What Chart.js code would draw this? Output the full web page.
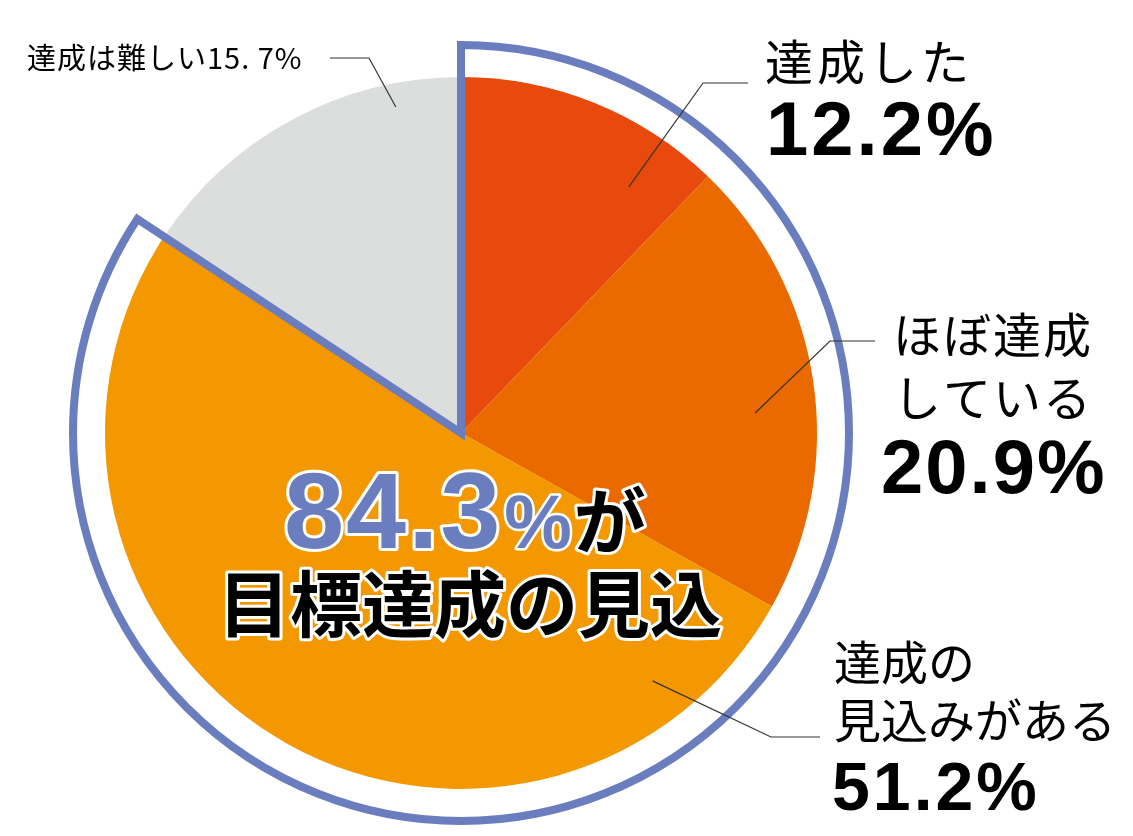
<!DOCTYPE html>
<html lang="ja">
<head>
<meta charset="utf-8">
<script src="https://cdn.jsdelivr.net/npm/chart.js@4.4.1/dist/chart.umd.min.js"></script>
<style>
  html, body { margin: 0; padding: 0; background: #fff; }
  #wrap { width: 1133px; height: 836px; position: relative; }
</style>
</head>
<body>
<div id="wrap"><canvas id="pieChart"></canvas></div>
<script>
const categories = ["達成した", "ほぼ達成している", "達成の見込みがある", "達成は難しい"];
const values = [12.2, 20.9, 51.2, 15.7];
const valueLabels = ["12.2%", "20.9%", "51.2%", "15. 7%"];
const colors = ["#e8490c", "#eb6a00", "#f39800", "#dcdddd"];

const blue = "#6a7dbe";
const jp = '"Noto Sans CJK JP", "Noto Sans", sans-serif';
const num = '"Liberation Sans", Arial, sans-serif';

// leader lines: anchor inside the slice (angle from top in deg, fraction of radius), then elbow and end
const leaders = [
  { ang: 34.3, rf: 0.837, elbow: [703, 83], end: [748, 83] },
  { ang: 86.1, rf: 0.828, elbow: [830, 341], end: [875, 341] },
  { ang: 142.3, rf: 0.88, elbow: [771, 737], end: [820, 737] },
  { ang: 348.7, rf: 0.934, elbow: [369, 58], end: [330, 58] }
];

function drawOutlined(c, txt, x, y, fill, stroke, sw) {
  c.lineJoin = 'round';
  c.strokeStyle = stroke;
  c.lineWidth = sw;
  c.strokeText(txt, x, y);
  c.fillStyle = fill;
  c.fillText(txt, x, y);
}

const overlay = {
  id: 'overlay',
  afterDraw(chart) {
    const c = chart.ctx;
    const arcs = chart.getDatasetMeta(0).data;
    const cx = arcs[0].x, cy = arcs[0].y, r = arcs[0].outerRadius;

    // outline round the first three slices
    const a0 = arcs[0].startAngle, a1 = arcs[2].endAngle;
    const R = r + 32;
    c.save();
    c.strokeStyle = blue;
    c.lineWidth = 8;
    c.lineJoin = 'miter';
    c.beginPath();
    c.moveTo(cx, cy);
    c.lineTo(cx + R * Math.cos(a0), cy + R * Math.sin(a0));
    c.arc(cx, cy, R, a0, a1);
    c.closePath();
    c.stroke();

    // leader lines
    c.strokeStyle = '#333';
    c.lineWidth = 1.2;
    leaders.forEach(l => {
      const a = (l.ang - 90) * Math.PI / 180;
      c.beginPath();
      c.moveTo(cx + r * l.rf * Math.cos(a), cy + r * l.rf * Math.sin(a));
      c.lineTo(l.elbow[0], l.elbow[1]);
      c.lineTo(l.end[0], l.end[1]);
      c.stroke();
    });

    // labels
    c.fillStyle = '#000';
    c.textAlign = 'left';
    c.textBaseline = 'middle';
    c.letterSpacing = '4px';
    c.font = '48px ' + jp;
    c.fillText("達成した", 765, 62);
    c.letterSpacing = '2px';
    c.fillText("ほぼ達成", 893, 335);
    c.fillText("している", 893, 398);
    c.letterSpacing = '0px';
    c.font = '47px ' + jp;
    c.fillText("達成の", 834, 662);
    c.fillText("見込みがある", 834, 720);
    c.font = '29px ' + jp;
    c.letterSpacing = '1px';
    c.fillText(categories[3] + valueLabels[3], 27, 58);

    c.textBaseline = 'alphabetic';
    c.font = 'bold 76px ' + num;
    c.letterSpacing = '3px';
    c.fillText(valueLabels[0], 766, 155);
    c.letterSpacing = '2px';
    c.fillText(valueLabels[1], 881, 493);
    c.font = 'bold 68px ' + num;
    c.letterSpacing = '3px';
    c.fillText(valueLabels[2], 832, 810);
    c.letterSpacing = '0px';

    // centre message
    const total = values.slice(0, 3).reduce((s, v) => s + v, 0).toFixed(1);
    c.font = 'bold 108px ' + num;
    c.letterSpacing = '2px';
    drawOutlined(c, total, 284, 548, blue, '#fff', 6);
    const w = c.measureText(total).width;
    c.font = 'bold 76px ' + num;
    c.letterSpacing = '0px';
    drawOutlined(c, "%", 284 + w + 2, 548, blue, '#fff', 5);
    const w2 = c.measureText("%").width;
    c.font = 'bold 72px ' + jp;
    drawOutlined(c, "が", 284 + w + w2 + 4, 548, '#000', '#fff', 6);
    c.textAlign = 'center';
    c.textBaseline = 'middle';
    drawOutlined(c, "目標達成の見込", 470, 604, '#000', '#fff', 6);
    c.restore();
  }
};

const ctx = document.getElementById('pieChart').getContext('2d');
const chart = new Chart(ctx, {
  type: 'pie',
  data: {
    labels: categories,
    datasets: [{
      data: values,
      backgroundColor: colors,
      borderWidth: 0
    }]
  },
  options: {
    responsive: true,
    maintainAspectRatio: false,
    animation: false,
    layout: { padding: { left: 105, right: 316, top: 77, bottom: 47 } },
    plugins: {
      legend: { display: false },
      tooltip: { enabled: false }
    }
  },
  plugins: [overlay]
});
</script>
</body>
</html>
